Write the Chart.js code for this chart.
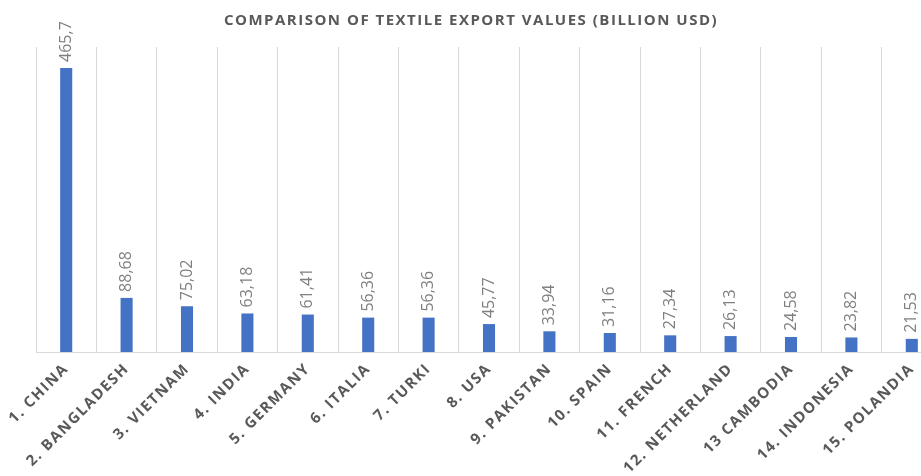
<!DOCTYPE html>
<html>
<head>
<meta charset="utf-8">
<script src="https://cdn.jsdelivr.net/npm/chart.js@4"></script>
<style>
  html, body { margin: 0; padding: 0; background: #fff; overflow: hidden; }
  #wrap { width: 942px; height: 476px; position: relative; }
</style>
</head>
<body>
<div id="wrap"><canvas id="c"></canvas></div>
<script>
const categories = ['1. CHINA', '2. BANGLADESH', '3. VIETNAM', '4. INDIA', '5. GERMANY', '6. ITALIA', '7. TURKI', '8. USA', '9. PAKISTAN', '10. SPAIN', '11. FRENCH', '12. NETHERLAND', '13 CAMBODIA', '14. INDONESIA', '15. POLANDIA'];
const values = [465.7, 88.68, 75.02, 63.18, 61.41, 56.36, 56.36, 45.77, 33.94, 31.16, 27.34, 26.13, 24.58, 23.82, 21.53];
const valueLabels = ['465,7', '88,68', '75,02', '63,18', '61,41', '56,36', '56,36', '45,77', '33,94', '31,16', '27,34', '26,13', '24,58', '23,82', '21,53'];
const titleText = 'COMPARISON OF TEXTILE EXPORT VALUES (BILLION USD)';

// letter spacing for title and axis labels (drawn before datasets)
const spacingPlugin = {
  id: 'spacing',
  beforeDraw(chart) { chart.ctx.letterSpacing = '1.5px'; },
  beforeDatasetsDraw(chart) { chart.ctx.letterSpacing = '0px'; },
  afterDraw(chart) { chart.ctx.letterSpacing = '0px'; }
};

const valueLabelPlugin = {
  id: 'valueLabels',
  afterDatasetsDraw(chart) {
    const ctx = chart.ctx;
    const meta = chart.getDatasetMeta(0);
    ctx.save();
    ctx.letterSpacing = '0px';
    ctx.font = '16px "Open Sans"';
    ctx.fillStyle = '#7f7f7f';
    ctx.textAlign = 'left';
    ctx.textBaseline = 'middle';
    meta.data.forEach((bar, i) => {
      ctx.save();
      ctx.translate(bar.x, bar.y - 6);
      ctx.rotate(-Math.PI / 2);
      ctx.fillText(valueLabels[i], 0, 0);
      ctx.restore();
    });
    ctx.restore();
  }
};

new Chart(document.getElementById('c'), {
  type: 'bar',
  data: {
    labels: categories,
    datasets: [{
      data: values,
      backgroundColor: '#4472C4',
      borderWidth: 0,
      barPercentage: 0.2,
      categoryPercentage: 1.0
    }]
  },
  options: {
    responsive: true,
    maintainAspectRatio: false,
    animation: false,
    layout: { padding: 0 },
    plugins: {
      legend: { display: false },
      tooltip: { enabled: false },
      title: {
        display: true,
        text: titleText,
        color: '#595959',
        font: { family: '"Open Sans"', size: 15, weight: 'bold' },
        padding: { top: 12, bottom: 17 }
      }
    },
    scales: {
      x: {
        grid: { offset: true, color: '#d9d9d9', drawTicks: false },
        border: { color: '#d9d9d9' },
        ticks: {
          minRotation: 45,
          maxRotation: 45,
          autoSkip: false,
          color: '#595959',
          font: { family: '"Open Sans"', size: 15, weight: 'bold' },
          padding: 8
        },
        afterCalculateLabelRotation(s) { s.labelRotation = 45; },
        afterFit(s) {
          s.height = 124;
          s.paddingLeft = 36;
          s.paddingRight = 0;
        }
      },
      y: {
        display: false,
        min: 0,
        max: 500
      }
    }
  },
  plugins: [spacingPlugin, valueLabelPlugin]
});
</script>
</body>
</html>
